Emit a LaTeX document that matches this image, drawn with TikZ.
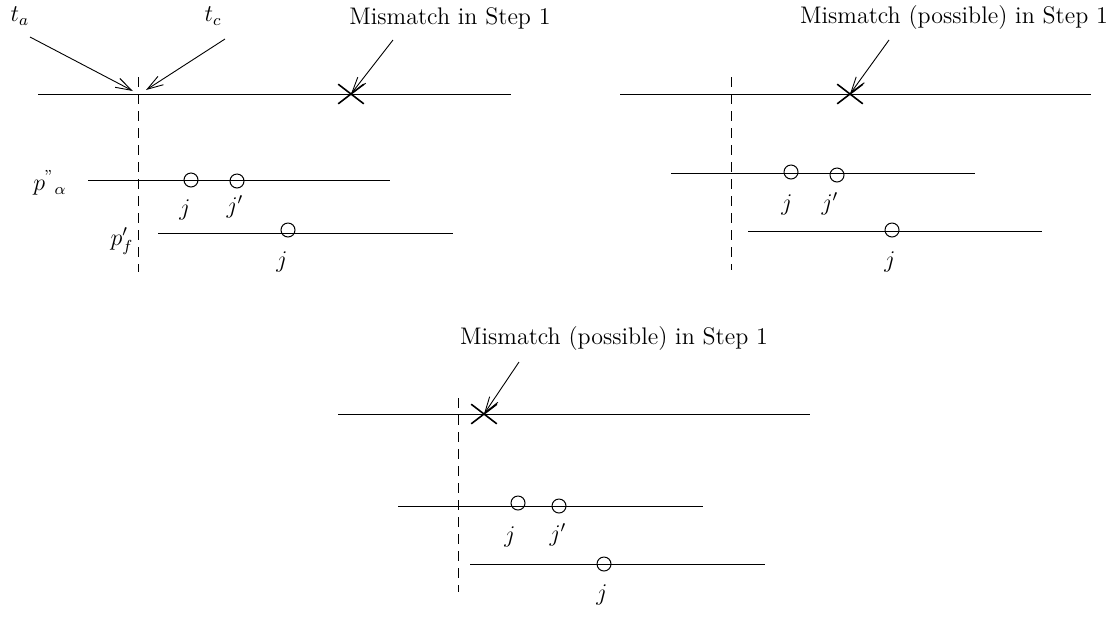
\documentclass[tikz,border=0pt]{standalone}
\usetikzlibrary{arrows.meta,shapes.misc}
\tikzset{
  seg/.style={line width=0.5pt},
  guide/.style={line width=0.5pt, dash pattern=on 5pt off 3.5pt},
  pointer/.style={line width=0.45pt, -{Straight Barb[length=8pt,width=5pt]}},
  site/.style={circle, draw, line width=0.5pt, inner sep=0pt, minimum size=7pt},
  miss/.style={cross out, draw, line width=0.8pt, inner sep=0pt, minimum width=12pt, minimum height=9pt},
  tag/.style={inner sep=1pt}
}
\begin{document}
\begin{tikzpicture}[x=0.5pt,y=-0.5pt,font=\large]
  \useasboundingbox (0,0) rectangle (1117,617);
  % first panel
  \draw[seg] (38,94) -- (511,94);
  \draw[guide] (138,77) -- (138,272);
  \node[tag] (ta) at (20,16) {$t_a$};
  \node[tag] (tc) at (213,16) {$t_c$};
  \coordinate (tafrom) at (30,37);
  \coordinate (tato) at (133,91);
  \coordinate (tcfrom) at (225,39);
  \coordinate (tcto) at (146,90);
  \draw[pointer] (tafrom) -- (tato);
  \draw[pointer] (tcfrom) -- (tcto);
  \node[miss] (x1) at (351,94) {};
  \node[tag] (mm1) at (450,18) {Mismatch in Step 1};
  \coordinate (mm1from) at (393,40);
  \draw[pointer] (mm1from) -- (x1.center);
  \draw[seg] (88,180) -- (390,180);
  \node[tag] (pa) at (50,183) {$p^{"}{}_{\alpha}$};
  \node[site] (s1a) at (191,180) {};
  \node[site] (s1b) at (237,181) {};
  \node[tag] (j1a) at (185,210) {$j$};
  \node[tag] (j1b) at (235,207) {$j'$};
  \draw[seg] (158,233) -- (453,233);
  \node[tag] (pf) at (122,241) {$p'_f$};
  \node[site] (s1c) at (288,230) {};
  \node[tag] (j1c) at (282,262) {$j$};
  % second panel
  \draw[seg] (620,94) -- (1091,94);
  \draw[guide] (731,77) -- (731,270);
  \node[miss] (x2) at (850,94) {};
  \node[tag] (mm2) at (954,18) {Mismatch (possible) in Step 1};
  \coordinate (mm2from) at (889,40);
  \draw[pointer] (mm2from) -- (x2.center);
  \draw[seg] (671,173) -- (975,173);
  \node[site] (s2a) at (791,172) {};
  \node[site] (s2b) at (837,175) {};
  \node[tag] (j2a) at (787,205) {$j$};
  \node[tag] (j2b) at (830,204) {$j'$};
  \draw[seg] (748,231) -- (1042,231);
  \node[site] (s2c) at (892,230) {};
  \node[tag] (j2c) at (890,262) {$j$};
  % third panel
  \draw[seg] (338,414) -- (810,414);
  \draw[guide] (458,398) -- (458,592);
  \node[miss] (x3) at (484,414) {};
  \node[tag] (mm3) at (614,338) {Mismatch (possible) in Step 1};
  \coordinate (mm3from) at (519,362);
  \draw[pointer] (mm3from) -- (x3.center);
  \draw[seg] (398,506) -- (703,506);
  \node[site] (s3a) at (518,503) {};
  \node[site] (s3b) at (559,506) {};
  \node[tag] (j3a) at (510,537) {$j$};
  \node[tag] (j3b) at (558,535) {$j'$};
  \draw[seg] (470,564) -- (765,564);
  \node[site] (s3c) at (604,564) {};
  \node[tag] (j3c) at (602,595) {$j$};
\end{tikzpicture}
\end{document}
